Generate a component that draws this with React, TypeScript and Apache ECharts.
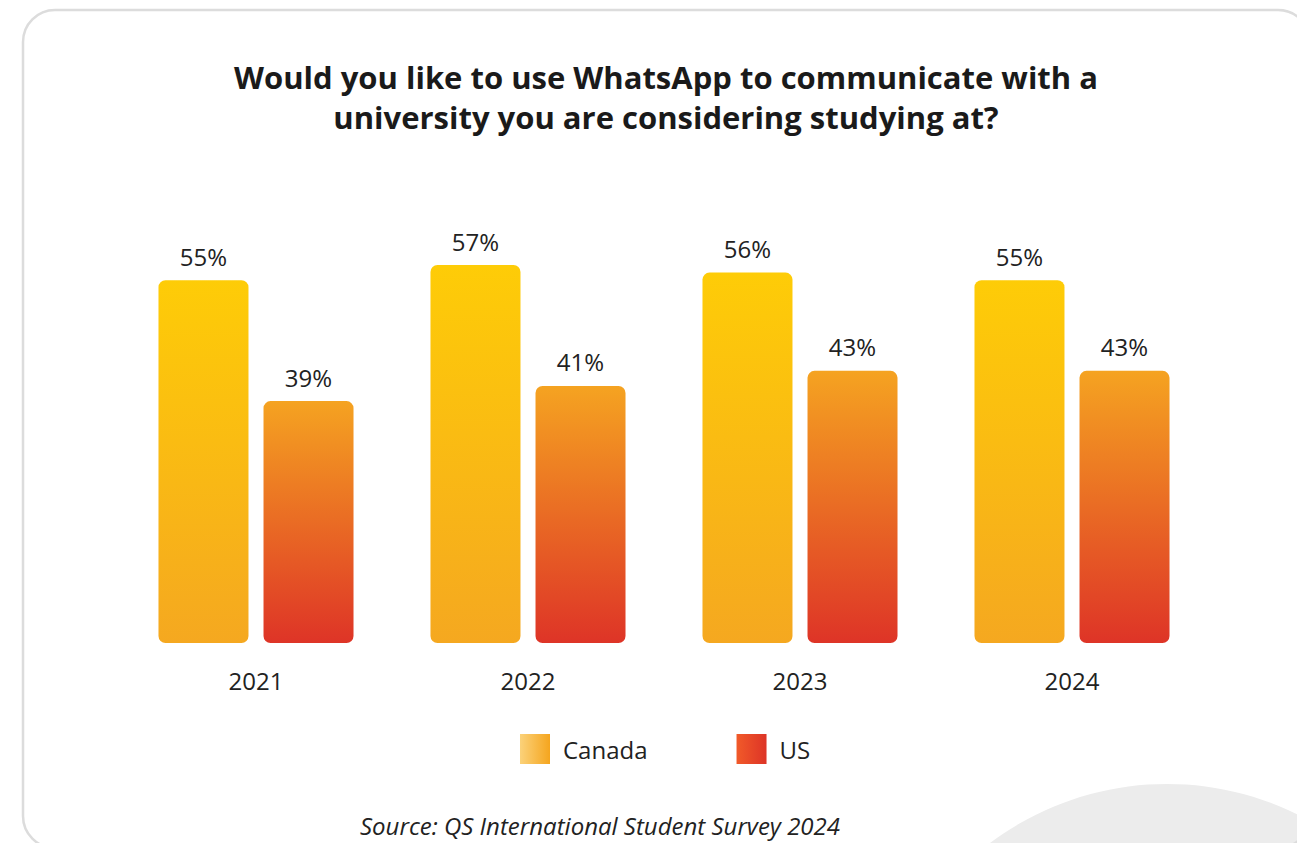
import React, { useEffect, useRef } from "react";
import * as echarts from "echarts";

const years = ["2021", "2022", "2023", "2024"];
const canada = [55, 57, 56, 55];
const us = [39, 41, 43, 43];
const seriesNames = ["Canada", "US"];
const titleText = "Would you like to use WhatsApp to communicate with a\nuniversity you are considering studying at?";
const sourceText = "Source: QS International Student Survey 2024";

const FONT = "'Open Sans', Lato, sans-serif";

export default function App() {
  const ref = useRef<HTMLDivElement>(null);
  useEffect(() => {
    if (!ref.current) return;
    const chart = echarts.init(ref.current, undefined, { renderer: "svg" });
    const vGrad = (a: string, b: string) =>
      new echarts.graphic.LinearGradient(0, 0, 0, 1, [
        { offset: 0, color: a },
        { offset: 1, color: b },
      ]);
    const hGrad = (a: string, b: string) =>
      new echarts.graphic.LinearGradient(0, 0, 1, 0, [
        { offset: 0, color: a },
        { offset: 1, color: b },
      ]);
    const labelCfg = {
      show: true,
      position: "top",
      distance: 12,
      formatter: "{c}%",
      fontFamily: FONT,
      fontSize: 24,
      color: "#222222",
    };
    chart.setOption({
      animation: false,
      backgroundColor: "#ffffff",
      graphic: [
        {
          type: "circle",
          shape: { cx: 1167, cy: 1079, r: 295 },
          style: { fill: "#ececec" },
          z: 0,
          silent: true,
        },
        {
          type: "rect",
          shape: { x: 23, y: 10, width: 1287, height: 838, r: 32 },
          style: { fill: "none", stroke: "#dcdcdc", lineWidth: 2.5 },
          z: 1,
          silent: true,
        },
        {
          type: "text",
          x: 666,
          y: 57,
          style: {
            text: titleText,
            fontFamily: FONT,
            fontWeight: 700,
            fontSize: 31,
            lineHeight: 40,
            fill: "#1a1a1a",
            align: "center",
            verticalAlign: "top",
          },
          z: 2,
        },
        {
          type: "text",
          x: 600,
          y: 825,
          style: {
            text: sourceText,
            fontFamily: FONT,
            fontStyle: "italic",
            fontSize: 24,
            fill: "#222222",
            align: "center",
            verticalAlign: "middle",
          },
          z: 2,
        },
      ],
      legend: {
        left: 520,
        top: 734,
        padding: 0,
        icon: "rect",
        itemWidth: 30,
        itemHeight: 30,
        itemGap: 89,
        textStyle: { fontFamily: FONT, fontSize: 24, color: "#222222", padding: [0, 0, 0, 8] },
        data: [
          { name: seriesNames[0], itemStyle: { color: hGrad("#fbd27a", "#f5a51e") } },
          { name: seriesNames[1], itemStyle: { color: hGrad("#f15a29", "#dd3427") } },
        ],
        selectedMode: false,
      },
      grid: { left: 120, right: 89, top: 197, bottom: 200, containLabel: false },
      xAxis: {
        type: "category",
        data: years,
        axisLine: { show: false },
        axisTick: { show: false },
        axisLabel: { fontFamily: FONT, fontSize: 24, color: "#222222", margin: 25 },
      },
      yAxis: {
        type: "value",
        min: 7,
        max: 66,
        show: false,
        splitLine: { show: false },
      },
      series: [
        {
          name: seriesNames[0],
          type: "bar",
          data: canada,
          barWidth: 90,
          barGap: "16.7%",
          itemStyle: { color: vGrad("#fecc07", "#f5a820"), borderRadius: 7 },
          label: labelCfg,
        },
        {
          name: seriesNames[1],
          type: "bar",
          data: us,
          barWidth: 90,
          itemStyle: { color: vGrad("#f5a321", "#de3427"), borderRadius: 7 },
          label: labelCfg,
        },
      ],
    });
    return () => chart.dispose();
  }, []);
  return (
    <div
      ref={ref}
      style={{ position: "fixed", left: 0, top: 0, width: 1297, height: 843 }}
    />
  );
}
